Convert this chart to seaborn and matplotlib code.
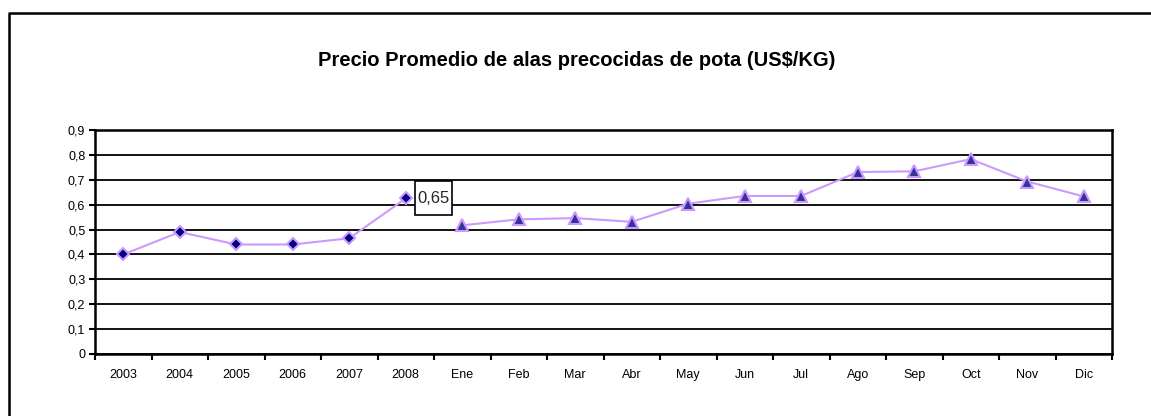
import numpy as np
import pandas as pd
import seaborn as sns
import matplotlib.pyplot as plt
from matplotlib.lines import Line2D
from matplotlib.ticker import FixedLocator, FuncFormatter

# data
years = ['2003', '2004', '2005', '2006', '2007', '2008']
year_price = [0.40, 0.49, 0.44, 0.44, 0.465, 0.625]
months = ['Ene', 'Feb', 'Mar', 'Abr', 'May', 'Jun',
          'Jul', 'Ago', 'Sep', 'Oct', 'Nov', 'Dic']
month_price = [0.517, 0.541, 0.546, 0.531, 0.604, 0.635,
               0.635, 0.731, 0.734, 0.783, 0.693, 0.633]
label_2008 = '0,65'
title = 'Precio Promedio de alas precocidas de pota (US$/KG)'

sns.set_theme(style='white')
plt.rcParams['font.family'] = ['Liberation Sans', 'DejaVu Sans']

W, H = 1151, 416
fig = plt.figure(figsize=(W / 100, H / 100), dpi=100)
ax = fig.add_axes([95 / W, 1 - 354 / H, (1112 - 95) / W, (354 - 130) / H])

df_year = pd.DataFrame({'periodo': years, 'precio': year_price})
df_month = pd.DataFrame({'periodo': months, 'precio': month_price})

line_col = '#CC99FF'
sns.lineplot(data=df_year, x='periodo', y='precio', ax=ax, sort=False,
             color=line_col, linewidth=1.5, marker='D', markersize=6.5,
             markerfacecolor='#000080', markeredgecolor=line_col,
             markeredgewidth=1.5, zorder=4)
sns.lineplot(data=df_month, x='periodo', y='precio', ax=ax, sort=False,
             color=line_col, linewidth=1.5, marker='^', markersize=9,
             markerfacecolor='#333399', markeredgecolor=line_col,
             markeredgewidth=1.5, zorder=4)

n = len(years) + len(months)
ax.set_xlim(-0.5, n - 0.5)
ax.set_ylim(0, 0.9)
ax.set_xlabel('')
ax.set_ylabel('')

# ticks at category boundaries, labels centred on categories
ax.xaxis.set_major_locator(FixedLocator(np.arange(n + 1) - 0.5))
ax.xaxis.set_major_formatter(FuncFormatter(lambda v, p: ''))
ax.xaxis.set_minor_locator(FixedLocator(np.arange(n)))
ax.xaxis.set_minor_formatter(FuncFormatter(lambda v, p: (years + months)[int(round(v))]))
ax.tick_params(axis='x', which='major', direction='out', length=4, width=1.5,
               color='black', bottom=True)
ax.tick_params(axis='x', which='minor', length=0, pad=11, labelsize=9,
               labelcolor='black', bottom=True)

ax.set_yticks(np.arange(0, 0.91, 0.1))
ax.yaxis.set_major_formatter(FuncFormatter(lambda v, p: ('%g' % round(v, 1)).replace('.', ',')))
ax.tick_params(axis='y', direction='out', length=4, width=1.5, color='black',
               left=True, pad=3, labelsize=9, labelcolor='black')

ax.grid(axis='y', color='black', linewidth=1.3)
ax.grid(axis='x', visible=False)
ax.set_axisbelow(True)
for side in ['left', 'bottom', 'top', 'right']:
    ax.spines[side].set_visible(True)
    ax.spines[side].set_color('black')
    ax.spines[side].set_linewidth(1.8)

# boxed data label next to the 2008 point
ax.annotate(label_2008, xy=(5, year_price[-1]), xytext=(8.3, 0),
            textcoords='offset points', ha='left', va='center', fontsize=12,
            bbox=dict(boxstyle='square,pad=0.15', fc='white', ec='black',
                      lw=1.2, mutation_aspect=3.8),
            zorder=5)

fig.text(577 / W, 1 - 60 / H, title, ha='center', va='center',
         fontsize=14.5, fontweight='bold', color='black')

# outer chart frame (only left and top edges are in view)
fig.add_artist(Line2D([9 / W, 9 / W, 1], [0, 1 - 13 / H, 1 - 13 / H],
                      transform=fig.transFigure, color='black', linewidth=1.8))

fig.savefig('out.png', dpi=100)
